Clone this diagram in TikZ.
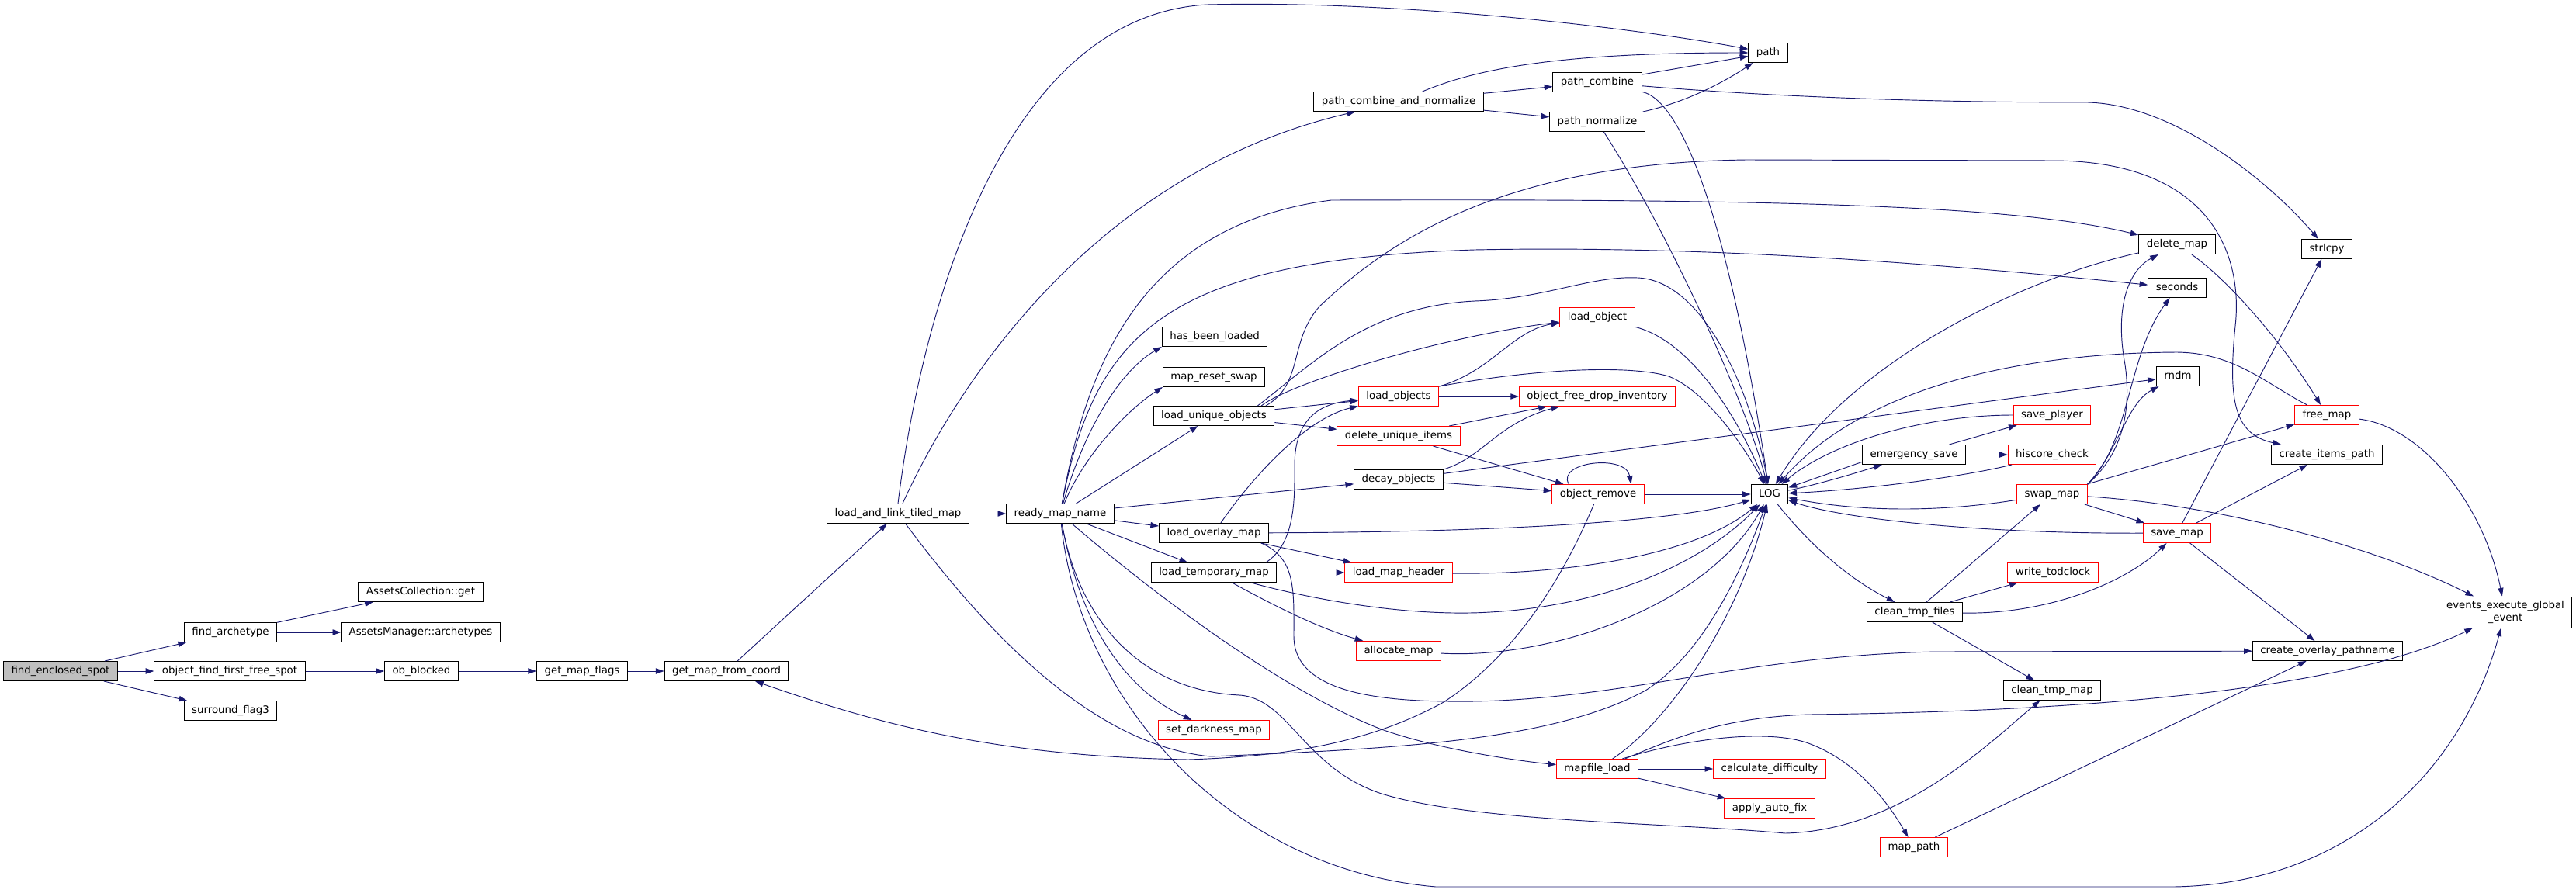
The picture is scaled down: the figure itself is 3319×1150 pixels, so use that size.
\documentclass[tikz,border=0pt]{standalone}
\usepackage{fontspec}
\newfontfamily\graphfont{DejaVu Sans}
\usetikzlibrary{arrows.meta}

\definecolor{edgeblue}{RGB}{25,25,112}
\definecolor{rootgray}{RGB}{191,191,191}
\definecolor{linkred}{RGB}{255,0,0}

\begin{document}
\begin{tikzpicture}[x=0.75pt, y=-0.75pt,
    fnbox/.style={draw=black, line width=0.75pt, fill=white, font=\graphfont\fontsize{10}{11.5}\selectfont, inner xsep=7.5pt, inner ysep=0pt},
    fn/.style={fnbox, minimum height=18.75pt, text height=7.5pt, text depth=2.5pt},
    fnred/.style={fn, draw=linkred},
    fnroot/.style={fn, fill=rootgray},
    call/.style={draw=edgeblue, line width=0.7pt, -{Triangle[length=8pt,width=5.5pt]}}]
    \useasboundingbox (0,0) rectangle (3319,1150);

    % left part
    \node[fnroot] (root) at (78,865) {find\_enclosed\_spot};
    \node[fn] (farch) at (297,815) {find\_archetype};
    \node[fn] (offfs) at (296,865) {object\_find\_first\_free\_spot};
    \node[fn] (surr) at (297,916) {surround\_flag3};
    \node[fn] (acget) at (542,763) {AssetsCollection::get};
    \node[fn] (amarch) at (542,815) {AssetsManager::archetypes};
    \node[fn] (obblk) at (543,865) {ob\_blocked};
    \node[fn] (gmflags) at (750,865) {get\_map\_flags};
    \node[fn] (gmfc) at (936,865) {get\_map\_from\_coord};
    \node[fn] (lalt) at (1157,662) {load\_and\_link\_tiled\_map};
    \node[fn] (rmn) at (1366,662) {ready\_map\_name};

    % middle
    \node[fn] (pcan) at (1802,131) {path\_combine\_and\_normalize};
    \node[fn] (pcomb) at (2058,106) {path\_combine};
    \node[fn] (pnorm) at (2058,157) {path\_normalize};
    \node[fn] (hbl) at (1565,434) {has\_been\_loaded};
    \node[fn] (mrs) at (1564,486) {map\_reset\_swap};
    \node[fn] (luo) at (1564,536) {load\_unique\_objects};
    \node[fnred] (lobj) at (2058,409) {load\_object};
    \node[fnred] (lobjs) at (1802,511) {load\_objects};
    \node[fnred] (ofdi) at (2058,511) {object\_free\_drop\_inventory};
    \node[fnred] (dui) at (1802,562) {delete\_unique\_items};
    \node[fn] (decay) at (1802,618) {decay\_objects};
    \node[fnred] (orem) at (2059,637) {object\_remove};
    \node[fn] (lom) at (1564,687) {load\_overlay\_map};
    \node[fn] (ltm) at (1564,738) {load\_temporary\_map};
    \node[fnred] (lmh) at (1802,738) {load\_map\_header};
    \node[fnred] (alloc) at (1802,839) {allocate\_map};
    \node[fnred] (sdm) at (1564,941) {set\_darkness\_map};
    \node[fnred] (mfl) at (2058,991) {mapfile\_load};

    % right part
    \node[fn] (logf) at (2280,637) {LOG};
    \node[fn] (path) at (2278,68) {path};
    \node[fnred] (cdiff) at (2280,991) {calculate\_difficulty};
    \node[fnred] (aaf) at (2280,1042) {apply\_auto\_fix};
    \node[fn] (esave) at (2466,586) {emergency\_save};
    \node[fn] (ctf) at (2467,789) {clean\_tmp\_files};
    \node[fnred] (mpath) at (2466,1092) {map\_path};
    \node[fnred] (splayer) at (2644,535) {save\_player};
    \node[fnred] (hcheck) at (2644,586) {hiscore\_check};
    \node[fnred] (swap) at (2644,637) {swap\_map};
    \node[fnred] (wtod) at (2645,738) {write\_todclock};
    \node[fn] (ctm) at (2644,890) {clean\_tmp\_map};
    \node[fn] (delmap) at (2805,315) {delete\_map};
    \node[fn] (secs) at (2805,371) {seconds};
    \node[fn] (rndm) at (2806,485) {rndm};
    \node[fnred] (savemap) at (2805,687) {save\_map};
    \node[fn] (strl) at (2998,321) {strlcpy};
    \node[fnred] (freemap) at (2998,535) {free\_map};
    \node[fn] (cip) at (2998,586) {create\_items\_path};
    \node[fn] (cop) at (2999,839) {create\_overlay\_pathname};
    \node[fnbox, align=center, minimum height=30pt] (eeg) at (3228,789) {events\_execute\_global\\\_event};

    % calls, left part
    \draw[call] (root) -- (farch);
    \draw[call] (root) -- (offfs);
    \draw[call] (root) -- (surr);
    \draw[call] (farch) -- (acget);
    \draw[call] (farch) -- (amarch);
    \draw[call] (offfs) -- (obblk);
    \draw[call] (obblk) -- (gmflags);
    \draw[call] (gmflags) -- (gmfc);
    \draw[call] (gmfc) -- (lalt);
    \draw[call] (lalt) -- (rmn);
    \draw[call] (lalt.north) .. controls (1190,380) and (1300,20) .. (1555,6) .. controls (1800,0) and (2100,35) .. (path);
    \draw[call] (lalt) .. controls (1240,480) and (1420,220) .. (pcan);
    \draw[call] (lalt) .. controls (1260,800) and (1400,960) .. (1560,975) .. controls (1800,965) and (2000,955) .. (2120,890) .. controls (2200,840) and (2250,720) .. (logf);
    \draw[call] (orem) .. controls (2020,730) and (1960,840) .. (1860,905) .. controls (1760,960) and (1650,975) .. (1531,979) .. controls (1300,975) and (1150,940) .. (gmfc);

    % ready_map_name
    \draw[call] (rmn) .. controls (1395,560) and (1440,480) .. (hbl.south west);
    \draw[call] (rmn) .. controls (1395,590) and (1450,530) .. (mrs.south west);
    \draw[call] (rmn) -- (luo);
    \draw[call] (rmn) .. controls (1400,470) and (1470,290) .. (1715,258) .. controls (2300,256) and (2600,265) .. (delmap);
    \draw[call] (rmn) .. controls (1410,430) and (1500,335) .. (1900,322) .. controls (2200,316) and (2500,340) .. (secs);
    \draw[call] (rmn) -- (decay);
    \draw[call] (rmn) -- (lom);
    \draw[call] (rmn) -- (ltm);
    \draw[call] (rmn) .. controls (1385,770) and (1430,880) .. (sdm);
    \draw[call] (rmn) .. controls (1480,760) and (1650,890) .. (1780,940) .. controls (1850,965) and (1950,980) .. (mfl);
    \draw[call] (rmn) .. controls (1390,800) and (1470,890) .. (1597,896) .. controls (1660,900) and (1680,990) .. (1780,1023) .. controls (1900,1060) and (2150,1060) .. (2300,1074) .. controls (2450,1070) and (2560,960) .. (ctm);
    \draw[call] (rmn) .. controls (1390,900) and (1580,1120) .. (1850,1143) -- (2800,1143) .. controls (3020,1140) and (3170,1000) .. (eeg);

    % loaders
    \draw[call] (luo) -- (lobjs);
    \draw[call] (luo) -- (dui);
    \draw[call] (luo.12) .. controls (1660,495) and (1850,435) .. (lobj);
    \draw[call] (luo.13) .. controls (1690,470) and (1760,395) .. (1900,388) .. controls (1990,385) and (2050,355) .. (2110,358) .. controls (2200,362) and (2260,520) .. (logf);
    \draw[call] (luo.11) .. controls (1680,495) and (1660,440) .. (1700,395) .. controls (1800,300) and (1950,210) .. (2250,206) -- (2650,207) .. controls (2850,210) and (2890,330) .. (2880,420) .. controls (2870,520) and (2880,560) .. (cip);
    \draw[call] (lobjs.north east) .. controls (1920,480) and (1950,425) .. (lobj);
    \draw[call] (lobjs) -- (ofdi);
    \draw[call] (lobjs.north east) .. controls (1980,475) and (2100,470) .. (2150,485) .. controls (2200,505) and (2250,580) .. (logf);
    \draw[call] (lobj) .. controls (2180,440) and (2240,540) .. (logf);
    \draw[call] (dui) -- (ofdi);
    \draw[call] (dui) -- (orem);
    \draw[call] (decay.north east) .. controls (1910,590) and (1930,545) .. (ofdi);
    \draw[call] (decay) -- (orem);
    \draw[call] (decay) -- (rndm);
    \draw[call] (orem.161) .. controls (2005,595) and (2095,585) .. (orem.17);
    \draw[call] (orem) -- (logf);
    \draw[call] (lom) .. controls (1610,620) and (1680,540) .. (lobjs);
    \draw[call] (lom) .. controls (1900,686) and (2150,675) .. (logf);
    \draw[call] (lom) -- (lmh);
    \draw[call] (lom.-12) .. controls (1670,720) and (1667,760) .. (1667,820) .. controls (1667,900) and (1800,905) .. (1900,904) .. controls (2100,900) and (2250,845) .. (2495,840) -- (cop);
    \draw[call] (ltm.11) .. controls (1670,700) and (1668,640) .. (1668,600) .. controls (1668,540) and (1700,520) .. (lobjs);
    \draw[call] (ltm) -- (lmh);
    \draw[call] (ltm) .. controls (1640,780) and (1700,810) .. (alloc);
    \draw[call] (ltm) .. controls (1700,775) and (1820,795) .. (1920,789) .. controls (2080,780) and (2200,720) .. (logf);
    \draw[call] (lmh) .. controls (2000,741) and (2180,720) .. (logf);
    \draw[call] (alloc) .. controls (2000,850) and (2200,780) .. (logf);
    \draw[call] (mfl) .. controls (2150,930) and (2240,800) .. (logf);
    \draw[call] (mfl) -- (cdiff);
    \draw[call] (mfl) -- (aaf);
    \draw[call] (mfl.20) .. controls (2160,950) and (2220,925) .. (2330,921) .. controls (2600,918) and (3000,900) .. (eeg);
    \draw[call] (mfl.22) .. controls (2180,950) and (2280,940) .. (2330,958) .. controls (2390,980) and (2430,1030) .. (mpath);

    % paths
    \draw[call] (pcan) -- (pcomb);
    \draw[call] (pcan) -- (pnorm);
    \draw[call] (pcan.23) .. controls (1900,90) and (2000,68) .. (path);
    \draw[call] (pcomb) -- (path);
    \draw[call] (pnorm) .. controls (2180,130) and (2230,100) .. (path);
    \draw[call] (pcomb) .. controls (2300,126) and (2500,132) .. (2690,132) .. controls (2800,135) and (2920,230) .. (strl);
    \draw[call] (pcomb) .. controls (2170,130) and (2230,300) .. (logf);
    \draw[call] (pnorm) .. controls (2150,300) and (2250,520) .. (logf);

    % right part
    \draw[call] (delmap) .. controls (2600,360) and (2380,470) .. (logf);
    \draw[call] (delmap) .. controls (2870,360) and (2940,440) .. (freemap);
    \draw[call] (freemap) .. controls (2920,495) and (2880,455) .. (2805,454) .. controls (2600,455) and (2400,500) .. (logf);
    \draw[call] (freemap) .. controls (3120,550) and (3200,650) .. (eeg);
    \draw[call] (splayer) .. controls (2480,535) and (2360,570) .. (logf);
    \draw[call] (esave) -- (splayer);
    \draw[call] (esave) -- (hcheck);
    \draw[call] (esave.188) -- (logf);
    \draw[call] (logf) .. controls (2340,625) and (2390,610) .. (esave);
    \draw[call] (hcheck) .. controls (2540,612) and (2420,630) .. (logf);
    \draw[call] (swap) .. controls (2500,660) and (2400,660) .. (logf);
    \draw[call] (savemap) .. controls (2560,688) and (2380,670) .. (logf);
    \draw[call] (logf) .. controls (2330,700) and (2380,745) .. (ctf);
    \draw[call] (ctf) -- (swap);
    \draw[call] (ctf) -- (wtod);
    \draw[call] (ctf) .. controls (2640,792) and (2740,750) .. (savemap);
    \draw[call] (ctf) -- (ctm);
    \draw[call] (swap.north east) .. controls (2740,580) and (2745,520) .. (2738,470) .. controls (2725,400) and (2740,350) .. (delmap);
    \draw[call] (swap.north east) .. controls (2745,570) and (2740,460) .. (secs);
    \draw[call] (swap.north east) .. controls (2730,580) and (2740,520) .. (rndm);
    \draw[call] (swap) -- (freemap);
    \draw[call] (swap) -- (savemap);
    \draw[call] (swap) .. controls (2850,650) and (3050,700) .. (eeg);
    \draw[call] (savemap) -- (strl);
    \draw[call] (savemap) -- (cip);
    \draw[call] (savemap) -- (cop);
    \draw[call] (mpath) -- (cop);
\end{tikzpicture}
\end{document}
